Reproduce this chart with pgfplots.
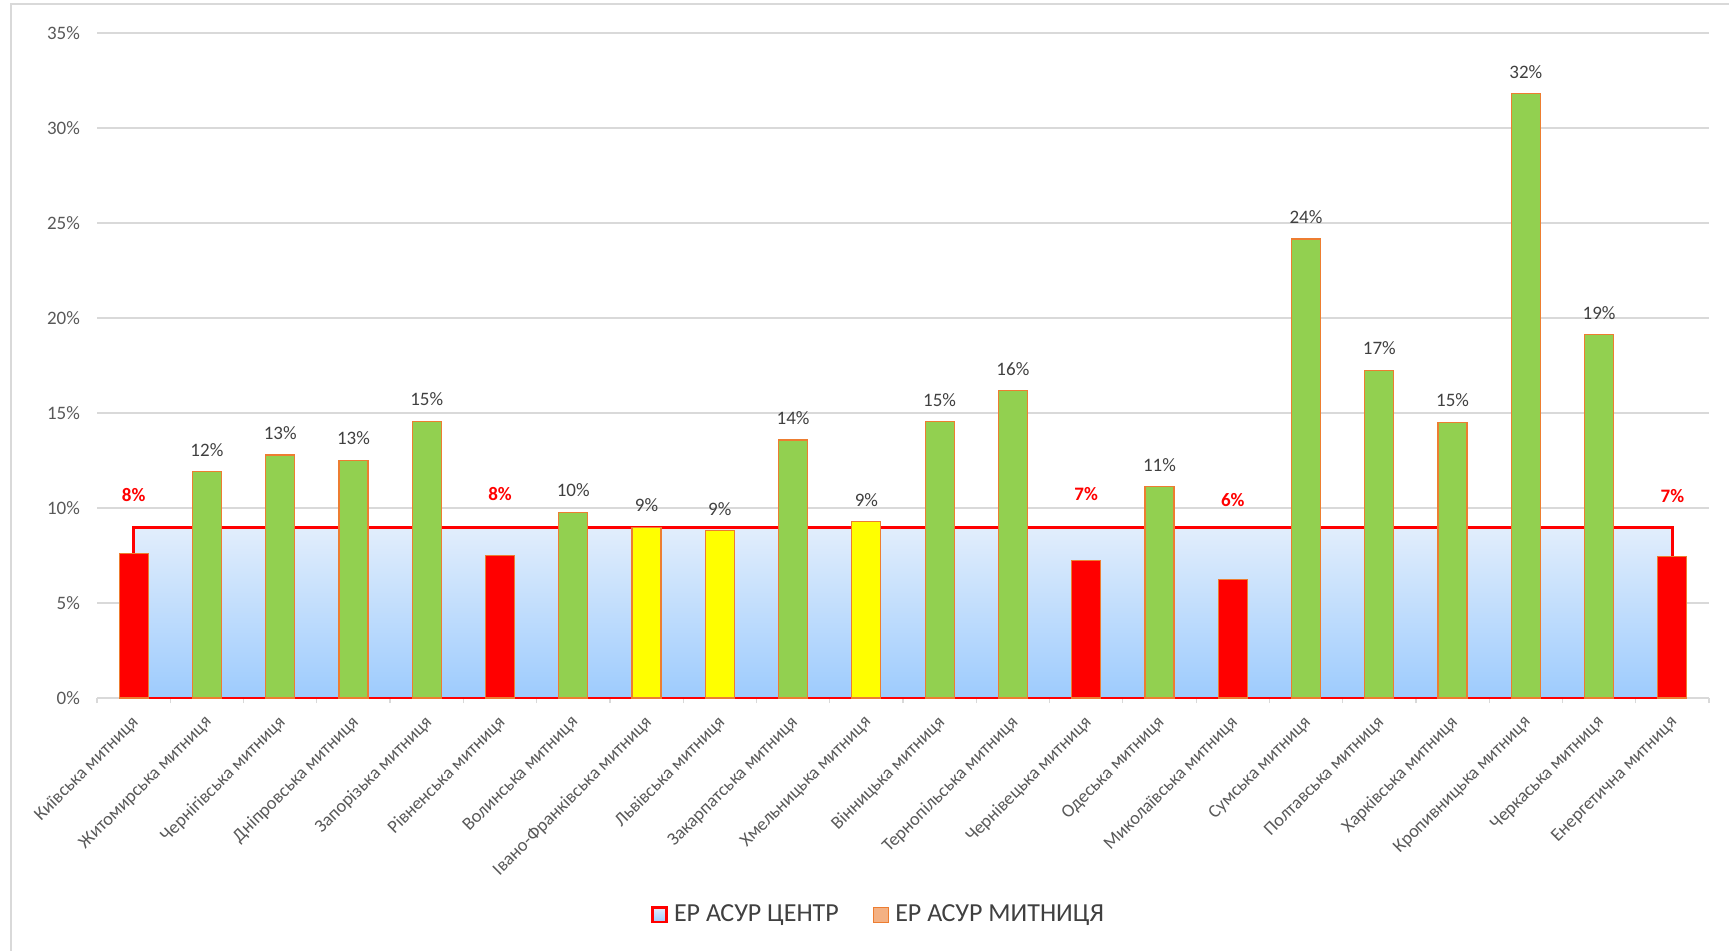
\documentclass[border=0pt]{standalone}
\usepackage{pgfplots}
\pgfplotsset{compat=1.18}
\usepackage{fontspec}
\setmainfont{Carlito}

\definecolor{barred}{HTML}{FF0000}
\definecolor{bargreen}{HTML}{92D050}
\definecolor{baryellow}{HTML}{FFFF00}
\definecolor{barline}{HTML}{ED7D31}
\definecolor{gridgray}{HTML}{D9D9D9}
\definecolor{labgray}{HTML}{595959}
\definecolor{valgray}{HTML}{404040}
\definecolor{areatop}{HTML}{E2EEFC}
\definecolor{areabot}{HTML}{9DCBFD}
\definecolor{legsalmon}{HTML}{F4B183}

\pgfplotsset{
  mybar/.style={ybar, bar width=14.5pt, bar shift=0pt, fill=#1, draw=barline,
    line width=0.6pt, forget plot},
  vallab/.style={nodes near coords={\pgfmathprintnumber[fixed,precision=0]{\pgfplotspointmeta}\%},
    nodes near coords style={font=\fontsize{9.5}{10}\selectfont, text=valgray, yshift=4pt}},
}

\begin{document}
\begin{tikzpicture}
\begin{axis}[
    scale only axis,
    width=806pt, height=332.5pt,
    xmin=-0.5, xmax=21.5,
    ymin=0, ymax=35,
    clip=false,
    axis x line*=bottom,
    axis y line*=left,
    x axis line style={gridgray, line width=0.8pt, -},
    y axis line style={draw=none},
    ytick={0,5,...,35},
    ytick style={draw=none},
    yticklabel={\pgfmathprintnumber{\tick}\%},
    yticklabel style={font=\fontsize{9.5}{10}\selectfont, text=labgray, xshift=-5pt},
    /pgf/number format/assume math mode=true,
    ymajorgrids,
    grid style={gridgray, line width=0.6pt},
    xtick={0,...,21},
    minor xtick={-0.5,0.5,...,21.5},
    major tick length=0pt,
    minor tick length=2.5pt,
    tick align=outside,
    every tick/.style={gridgray, line width=0.6pt},
    xticklabels={Київська митниця, Житомирська митниця, Чернігівська митниця,
      Дніпровська митниця, Запорізька митниця, Рівненська митниця,
      Волинська митниця, Івано-Франківська митниця, Львівська митниця,
      Закарпатська митниця, Хмельницька митниця, Вінницька митниця,
      Тернопільська митниця, Чернівецька митниця, Одеська митниця,
      Миколаївська митниця, Сумська митниця, Полтавська митниця,
      Харківська митниця, Кропивницька митниця, Черкаська митниця,
      Енергетична митниця},
    xticklabel style={font=\fontsize{9.2}{10}\selectfont, text=labgray,
      rotate=45, anchor=north east, inner sep=0pt, xshift=-6.75pt, yshift=-4.5pt},
    legend style={at={(0.4848,-0.326)}, anchor=center, draw=none, fill=none,
      legend columns=2, font=\fontsize{13}{15}\selectfont, text=valgray,
      nodes={inner sep=1pt},
      /tikz/every odd column/.append style={column sep=2pt},
      /tikz/every even column/.append style={column sep=16pt}},
    legend cell align=left,
]
% ЕР АСУР ЦЕНТР (area at 9%)
\addplot[draw=none, top color=areatop, bottom color=areabot, forget plot]
  coordinates {(0,9) (21,9)} \closedcycle;
\addplot[barred, line width=1.5pt, forget plot]
  coordinates {(0,0) (0,9) (21,9) (21,0)};
\addplot[barred, line width=0.6pt, forget plot]
  coordinates {(0,0) (21,0)};

% ЕР АСУР МИТНИЦЯ bars
\addplot[mybar=barred]
  coordinates {(0,7.61) (5,7.52) (13,7.25) (15,6.23) (21,7.44)};
\addplot[mybar=bargreen, vallab]
  coordinates {(1,11.91) (2,12.79) (3,12.51) (4,14.57) (6,9.77) (9,13.58)
    (11,14.54) (12,16.17) (14,11.12) (16,24.16) (17,17.25) (18,14.51)
    (19,31.8) (20,19.12)};
\addplot[mybar=baryellow, vallab]
  coordinates {(7,8.98) (8,8.81) (10,9.28)};

% red labels of the red bars
\addplot[draw=none, mark=none, forget plot, point meta=explicit symbolic,
  nodes near coords,
  nodes near coords style={font=\fontsize{9.5}{10}\selectfont\bfseries,
    text=barred, anchor=center}]
  coordinates {(0,10.68)[8\%] (5,10.74)[8\%] (13,10.74)[7\%] (15,10.42)[6\%] (21,10.63)[7\%]};

\addlegendimage{legend image code/.code={
  \draw[barred, line width=1.3pt, top color=areatop, bottom color=areabot]
    (0pt,-3.6pt) rectangle (7.2pt,3.6pt);}}
\addlegendentry{ЕР АСУР ЦЕНТР}
\addlegendimage{legend image code/.code={
  \draw[barline, line width=0.6pt, fill=legsalmon]
    (0pt,-3.8pt) rectangle (7.6pt,3.8pt);}}
\addlegendentry{ЕР АСУР МИТНИЦЯ}
\end{axis}
\draw[gridgray, line width=0.6pt] (-43pt,-130pt) -- (-43pt,347pt) -- (830pt,347pt);
\pgfresetboundingbox
\path[use as bounding box] (-48.5pt,-126pt) rectangle (816pt,349pt);
\end{tikzpicture}
\end{document}
